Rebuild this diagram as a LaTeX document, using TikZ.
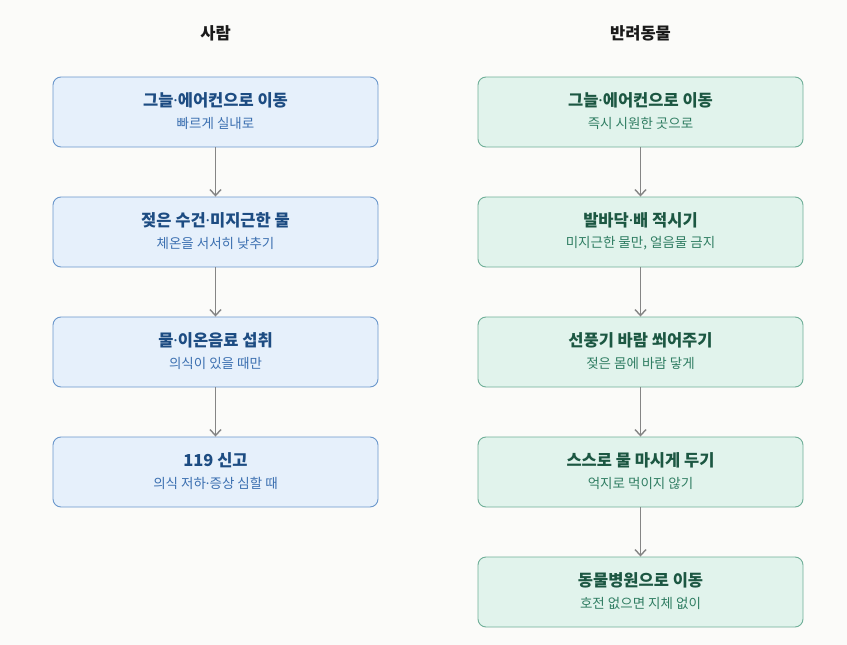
\documentclass[tikz,border=0pt]{standalone}
\usepackage{fontspec}
\setmainfont{Noto Sans CJK KR}
\newfontfamily\dotfont{Noto Sans}
\usetikzlibrary{arrows.meta}
\definecolor{bgc}{HTML}{FBFBF9}
\definecolor{lfill}{HTML}{E6F0FB}
\definecolor{ldraw}{HTML}{6A97CC}
\definecolor{ltitle}{HTML}{1D4C82}
\definecolor{lsub}{HTML}{3B6FB0}
\definecolor{rfill}{HTML}{E1F3EC}
\definecolor{rdraw}{HTML}{6FAF98}
\definecolor{rtitle}{HTML}{1C5742}
\definecolor{rsub}{HTML}{2F7D62}
\definecolor{arrc}{HTML}{858585}
\definecolor{headc}{HTML}{1A1A1A}
\newcommand{\mdot}{{\dotfont ·}}
\tikzset{
  boxbase/.style={rectangle, rounded corners=8pt, minimum width=325pt, minimum height=70pt, line width=0.9pt, inner sep=0pt},
  lbox/.style={boxbase, fill=lfill, draw=ldraw},
  rbox/.style={boxbase, fill=rfill, draw=rdraw},
  ttl/.style={font=\bfseries\fontsize{16.5pt}{19pt}\selectfont, inner sep=0pt, anchor=center},
  sub/.style={font=\fontsize{13.5pt}{16pt}\selectfont, inner sep=0pt, anchor=center},
  head/.style={font=\bfseries\fontsize{16.5pt}{19pt}\selectfont, text=headc, inner sep=0pt},
  flow/.style={draw=arrc, line width=1.6pt, -{Straight Barb[length=6pt,width=11pt,line width=1.4pt]}},
}
\newcommand{\mkbox}[5]{%
  \node[#1box] (#2) at #3 {};
  \node[ttl, text=#1title] (#2t) at ([yshift=12pt]#2.center) {#4};
  \node[sub, text=#1sub] (#2s) at ([yshift=-11pt]#2.center) {#5};
}
\begin{document}
\begin{tikzpicture}[x=1pt,y=-1pt]
\fill[bgc] (0,0) rectangle (847,645);
\useasboundingbox (0,0) rectangle (847,645);
\node[head] (hl) at (215.5,33) {사람};
\node[head] (hr) at (640.5,33) {반려동물};
\mkbox{l}{l1}{(215.5,112)}{그늘\mdot 에어컨으로 이동}{빠르게 실내로}
\mkbox{l}{l2}{(215.5,232)}{젖은 수건\mdot 미지근한 물}{체온을 서서히 낮추기}
\mkbox{l}{l3}{(215.5,352)}{물\mdot 이온음료 섭취}{의식이 있을 때만}
\mkbox{l}{l4}{(215.5,472)}{119 신고}{의식 저하\mdot 증상 심할 때}
\mkbox{r}{r1}{(640.5,112)}{그늘\mdot 에어컨으로 이동}{즉시 시원한 곳으로}
\mkbox{r}{r2}{(640.5,232)}{발바닥\mdot 배 적시기}{미지근한 물만, 얼음물 금지}
\mkbox{r}{r3}{(640.5,352)}{선풍기 바람 쐬어주기}{젖은 몸에 바람 닿게}
\mkbox{r}{r4}{(640.5,472)}{스스로 물 마시게 두기}{억지로 먹이지 않기}
\mkbox{r}{r5}{(640.5,592)}{동물병원으로 이동}{호전 없으면 지체 없이}
\draw[flow] (l1) -- (l2);
\draw[flow] (l2) -- (l3);
\draw[flow] (l3) -- (l4);
\draw[flow] (r1) -- (r2);
\draw[flow] (r2) -- (r3);
\draw[flow] (r3) -- (r4);
\draw[flow] (r4) -- (r5);
\end{tikzpicture}
\end{document}
